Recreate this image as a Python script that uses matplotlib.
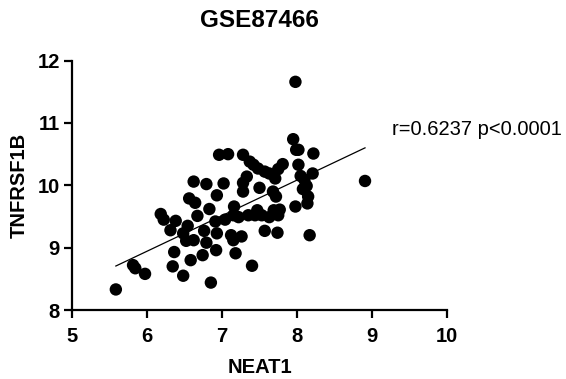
import matplotlib
matplotlib.use('Agg')
import matplotlib.pyplot as plt
import numpy as np

plt.rcParams['font.family'] = ['Liberation Sans', 'DejaVu Sans']

# NEAT1 expression (x) and TNFRSF1B expression (y)
neat1 = [5.58, 5.81, 5.84, 5.97, 6.18, 6.22, 6.38, 6.31, 6.36, 6.34,
         6.48, 6.48, 6.54, 6.52, 6.62, 6.58, 6.56, 6.64, 6.62, 6.67,
         6.76, 6.79, 6.74, 6.79, 6.83, 6.85, 6.92, 6.93, 6.91, 6.93,
         6.96, 7.08, 7.02, 7.04, 7.16, 7.15, 7.12, 7.15, 7.26, 7.18,
         7.22, 7.28, 7.28, 7.28, 7.33, 7.35, 7.40, 7.37, 7.42, 7.48,
         7.50, 7.47, 7.44, 7.53, 7.57, 7.57, 7.63, 7.68, 7.72, 7.63,
         7.69, 7.71, 7.75, 7.81, 7.77, 7.74, 7.75, 7.98, 7.95, 7.99,
         8.02, 7.98, 8.05, 8.10, 8.13, 8.08, 8.15, 8.14, 8.17, 8.22,
         8.21, 8.91, 8.02]
tnfrsf1b = [8.33, 8.72, 8.67, 8.58, 9.54, 9.45, 9.43, 9.28, 8.93, 8.70,
            8.55, 9.23, 9.35, 9.11, 9.12, 8.80, 9.79, 9.72, 10.06, 9.51,
            9.27, 9.08, 8.88, 10.02, 9.62, 8.44, 8.96, 9.84, 9.42, 9.23,
            10.49, 10.50, 10.03, 9.45, 9.66, 9.52, 9.20, 9.12, 9.18, 8.91,
            9.49, 10.49, 9.90, 10.04, 10.14, 9.52, 8.71, 10.38, 10.33, 10.27,
            9.96, 9.60, 9.52, 9.52, 9.27, 10.22, 10.19, 9.90, 9.82, 9.49,
            9.60, 10.11, 10.26, 10.34, 9.61, 9.24, 9.52, 11.66, 10.74, 10.57,
            10.33, 9.66, 10.15, 10.09, 9.99, 9.94, 9.82, 9.71, 9.20, 10.51,
            10.19, 10.07, 10.57]

title = 'GSE87466'
stat_text = 'r=0.6237 p<0.0001'

fig = plt.figure(figsize=(5.66, 3.79), dpi=100)
ax = fig.add_axes([0.128, 0.182, 0.661, 0.658])

ax.scatter(neat1, tnfrsf1b, s=80, color='black', edgecolors='none', zorder=3)

# linear fit over the data range
k, b = np.polyfit(neat1, tnfrsf1b, 1)
xs = np.array([min(neat1), max(neat1)])
ax.plot(xs, k * xs + b, color='black', linewidth=0.9, zorder=2)

ax.set_xlim(5, 10)
ax.set_ylim(8, 12)
ax.set_xticks([5, 6, 7, 8, 9, 10])
ax.set_yticks([8, 9, 10, 11, 12])

for side in ['top', 'right']:
    ax.spines[side].set_visible(False)
for side in ['left', 'bottom']:
    ax.spines[side].set_linewidth(1.6)
ax.tick_params(width=1.6, length=6, labelsize=14.5)
ax.tick_params(axis='x', pad=6)
ax.tick_params(axis='y', pad=3)
for lab in ax.get_xticklabels() + ax.get_yticklabels():
    lab.set_fontweight('bold')

ax.set_xlabel('NEAT1', fontsize=14.5, fontweight='bold', labelpad=9)
ax.set_ylabel('TNFRSF1B', fontsize=14.5, fontweight='bold', labelpad=6)
ax.set_title(title, fontsize=17.5, fontweight='bold', pad=24)

fig.text(0.693, 0.644, stat_text, fontsize=14.5, va='baseline', ha='left')

fig.savefig('out.png', dpi=100)
